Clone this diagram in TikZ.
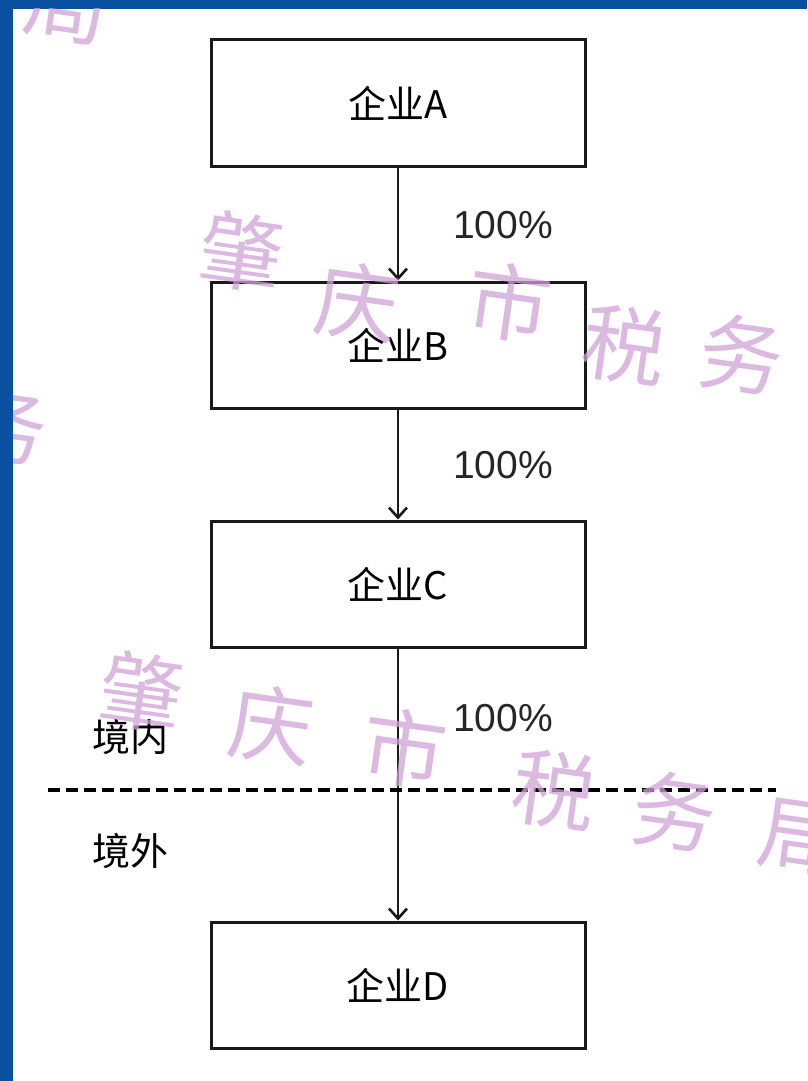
\documentclass[tikz,border=0pt]{standalone}
\usepackage{fontspec}
\setmainfont{Liberation Sans}
\newfontfamily\cjk{Noto Sans CJK SC}
\usetikzlibrary{arrows.meta}
\definecolor{borderblue}{HTML}{0A50A0}
\definecolor{wm}{HTML}{CFA2D6}
\tikzset{
  box/.style={draw=black!90, line width=3pt, fill=white, minimum width=374pt, minimum height=126pt, inner sep=0pt, font=\cjk\fontsize{38}{40}\selectfont},
  link/.style={draw=black!90, line width=2.6pt, -{Straight Barb[length=10pt,width=18pt,line width=2.6pt]}},
  pct/.style={font=\fontsize{39}{40}\selectfont, text=black!85},
  region/.style={font=\cjk\fontsize{38}{40}\selectfont},
  wmark/.style={text=wm, opacity=0.75, font=\cjk\fontsize{84}{84}\selectfont, rotate=-8},
}
\begin{document}
\begin{tikzpicture}[x=1pt,y=-1pt]
\useasboundingbox (0,0) rectangle (807,1081);
\fill[white] (0,0) rectangle (807,1081);
\fill[borderblue] (0,0) rectangle (807,9);
\fill[borderblue] (0,0) rectangle (13,1081);

\node[box] (A) at (398,103) {企业A};
\node[box] (B) at (398,345) {企业B};
\node[box] (C) at (398,584) {企业C};
\node[box] (D) at (398,985) {企业D};

\draw[link] (A.south) -- (B.north);
\draw[link] (B.south) -- (C.north);
\draw[link] (C.south) -- (D.north);

\node[pct] (p1) at (503,225) {100\%};
\node[pct] (p2) at (503,465) {100\%};
\node[pct] (p3) at (503,718) {100\%};

\coordinate (dl) at (48,790);
\coordinate (dr) at (776,790);
\draw[line width=3.2pt, dash pattern=on 12pt off 6pt] (dl) -- (dr);

\node[region] (in) at (130,737) {境内};
\node[region] (out) at (130,851) {境外};

\begin{scope}
\clip (13,9) rectangle (807,1081);
\node[wmark] (w1) at (242,252) {肇};
\node[wmark] (w2) at (358,302) {庆};
\node[wmark] (w3) at (510,302) {市};
\node[wmark] (w4) at (625,345) {税};
\node[wmark] (w5) at (742,355) {务};
\node[wmark] (w6) at (142,692) {肇};
\node[wmark] (w7) at (272,725) {庆};
\node[wmark] (w8) at (405,748) {市};
\node[wmark] (w9) at (555,790) {税};
\node[wmark] (w10) at (675,812) {务};
\node[wmark] (w11) at (800,838) {局};
\node[wmark] (w12) at (66,6) {局};
\node[wmark] (w13) at (6,425) {务};
\end{scope}
\end{tikzpicture}
\end{document}
